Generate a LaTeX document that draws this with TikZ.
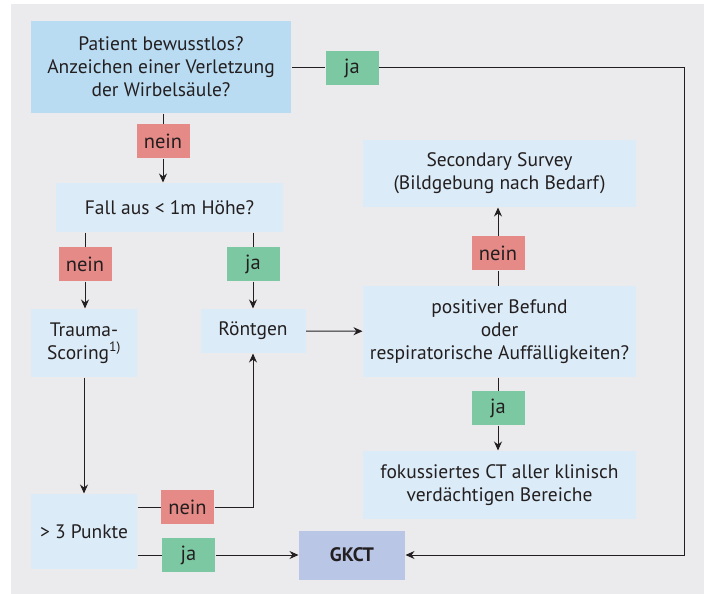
\documentclass[tikz,border=0pt]{standalone}
\usepackage{fontspec}
\setmainfont{PT Sans}
\usetikzlibrary{arrows.meta}
\definecolor{panelgray}{HTML}{EBEBEE}
\definecolor{qblue}{HTML}{BADCF3}
\definecolor{boxblue}{HTML}{DBEBF7}
\definecolor{neinred}{HTML}{E58A86}
\definecolor{jagreen}{HTML}{7CC8A2}
\definecolor{ctblue}{HTML}{B9C6E5}
\definecolor{txt}{HTML}{231F20}
\begin{document}
\begin{tikzpicture}
[x=1pt,y=-1pt,line width=1pt,draw=txt,text=txt,%
  every node/.style={align=center,inner sep=0pt,font=\fontsize{19.5}{23}\selectfont},%
  box/.style={fill=boxblue,minimum width=#1},%
  nein/.style={fill=neinred,minimum width=53pt,minimum height=34pt,font=\fontsize{20.5}{22}\selectfont},%
  ja/.style={fill=jagreen,minimum width=53pt,minimum height=34pt,font=\fontsize{20.5}{22}\selectfont},%
  arr/.style={-{Stealth[length=9pt,width=8pt]}}]
\useasboundingbox (0,0) rectangle (712,594);
\fill[panelgray] (11,4) rectangle (704,594);
% boxes
\node[fill=qblue,minimum width=260pt,minimum height=92pt] (q1) at (161,67)
  {Patient bewusstlos?\\Anzeichen einer Verletzung\\der Wirbelsäule?};
\node[box=227pt,minimum height=49pt] (fall) at (169.5,207.5) {Fall aus < 1m Höhe?};
\node[box=273pt,minimum height=67pt] (second) at (499.5,173.5)
  {Secondary Survey\\(Bildgebung nach Bedarf)};
\node[box=106pt,minimum height=68pt] (trauma) at (84,343) {Trauma-\\Scoring\textsuperscript{1)}};
\node[box=105pt,minimum height=44pt] (roent) at (253,331) {Röntgen};
\node[box=273pt,minimum height=91pt] (befund) at (499.5,331.5)
  {positiver Befund\\oder\\respiratorische Auffälligkeiten?};
\node[box=273pt,minimum height=68pt] (fokus) at (499.5,485)
  {fokussiertes CT aller klinisch\\verdächtigen Bereiche};
\node[box=106pt,minimum height=75pt] (punkte) at (84,531.5) {> 3 Punkte};
\node[fill=ctblue,minimum width=106pt,minimum height=49pt,font=\fontsize{19.5}{22}\selectfont\bfseries] (gkct) at (352,555) {GKCT};
% labels
\node[ja] (ja1) at (352,68) {ja};
\node[nein] (nein1) at (163,141) {nein};
\node[nein] (nein2) at (85,264) {nein};
\node[ja] (ja2) at (253,264) {ja};
\node[nein] (nein3) at (498,253) {nein};
\node[ja] (ja3) at (498,408) {ja};
\node[nein] (nein4) at (187.5,507) {nein};
\node[ja] (ja4) at (188.5,555) {ja};
\coordinate (corner) at (684,555);
% connectors
\draw (q1.east |- ja1) -- (ja1);
\draw[arr] (ja1) -| (corner) -- (gkct);
\draw (nein1 |- q1.south) -- (nein1);
\draw[arr] (nein1) -- (nein1 |- fall.north);
\draw (nein2 |- fall.south) -- (nein2);
\draw[arr] (nein2) -- (nein2 |- trauma.north);
\draw (ja2 |- fall.south) -- (ja2);
\draw[arr] (ja2) -- (roent);
\draw[arr] (roent) -- (befund);
\draw (nein3 |- befund.north) -- (nein3);
\draw[arr] (nein3) -- (nein3 |- second.south);
\draw (ja3 |- befund.south) -- (ja3);
\draw[arr] (ja3) -- (ja3 |- fokus.north);
\draw[arr] (trauma) -- (punkte);
\draw (punkte.east |- nein4) -- (nein4);
\draw[arr] (nein4) -| (roent);
\draw (punkte.east |- ja4) -- (ja4);
\draw[arr] (ja4) -- (gkct);
\end{tikzpicture}
\end{document}
